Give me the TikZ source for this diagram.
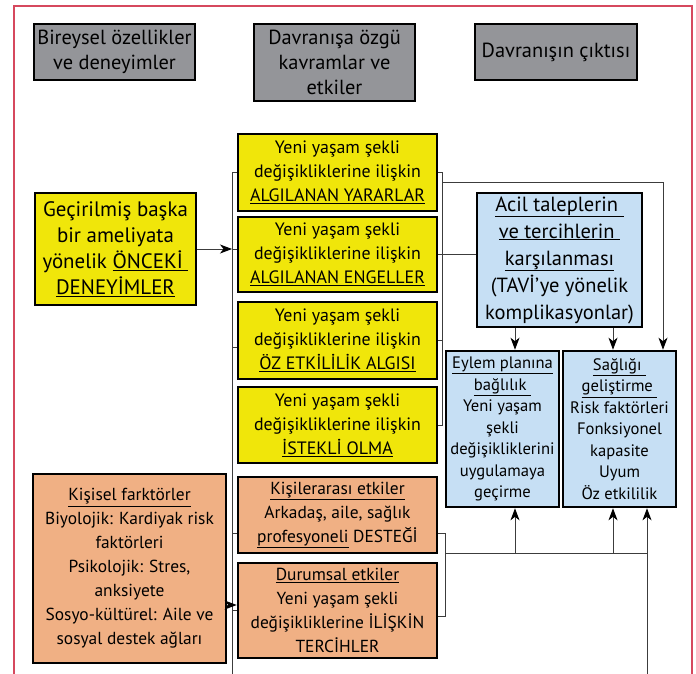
\documentclass[tikz,border=0pt]{standalone}
\usepackage{fontspec}
\setmainfont{PT Sans}
\usetikzlibrary{arrows.meta,calc}
\definecolor{frameRed}{RGB}{214,72,94}
\definecolor{hdrGray}{RGB}{148,149,153}
\definecolor{boxYellow}{RGB}{240,230,10}
\definecolor{boxOrange}{RGB}{240,176,132}
\definecolor{boxBlue}{RGB}{198,223,244}
\definecolor{lineGray}{RGB}{60,60,60}
\begin{document}
\begin{tikzpicture}[x=1pt,y=-1pt,
  box/.style={draw=black, line width=2.6pt, align=center, inner sep=0pt, text=black},
  hdr/.style={box, fill=hdrGray, font=\fontsize{20.4}{25}\selectfont},
  ybox/.style={box, fill=boxYellow, minimum width=199pt, font=\fontsize{17.9}{24}\selectfont},
  obox/.style={box, fill=boxOrange, font=\fontsize{17.4}{24}\selectfont},
  bbox/.style={box, fill=boxBlue, font=\fontsize{16.6}{21.5}\selectfont},
  conn/.style={draw=lineGray, line width=0.9pt},
  arr/.style={conn, -{Stealth[length=12pt,width=9pt,inset=3.5pt,black]}}
]
\useasboundingbox (0,0) rectangle (696,674);
\draw[frameRed, line width=2pt] (14,674) -- (14,6) -- (692,6) -- (692,674);

% headers
\node[hdr, minimum width=161pt, minimum height=56pt] (h1) at (114.5,52) {Bireysel özellikler\\ve deneyimler};
\node[hdr, minimum width=161pt, minimum height=77pt] (h2) at (334.5,62.5) {Davranışa özgü\\kavramlar ve\\etkiler};
\node[hdr, minimum width=162pt, minimum height=56pt] (h3) at (556,52) {Davranışın çıktısı};

% left column
\node[box, fill=boxYellow, minimum width=161pt, minimum height=112pt, font=\fontsize{20.9}{26}\selectfont] (prev) at (115.5,249)
  {Geçirilmiş başka\\bir ameliyata\\yönelik \underline{ÖNCEKİ }\\\underline{DENEYİMLER}};
\node[obox, minimum width=193pt, minimum height=189pt] (kis) at (129.5,568.5)
  {\underline{Kişisel farktörler}\\Biyolojik: Kardiyak risk\\faktörleri\\Psikolojik: Stres,\\anksiyete\\Sosyo-kültürel: Aile ve\\sosyal destek ağları};

% middle column
\node[ybox, minimum height=77pt] (y1) at (337.5,172.5) {Yeni yaşam şekli\\değişikliklerine ilişkin\\\underline{ALGILANAN YARARLAR}};
\node[ybox, minimum height=75pt] (y2) at (337.5,254.5) {Yeni yaşam şekli\\değişikliklerine ilişkin\\\underline{ALGILANAN ENGELLER}};
\node[ybox, minimum height=77pt] (y3) at (337.5,340.5) {Yeni yaşam şekli\\değişikliklerine ilişkin\\\underline{ÖZ ETKİLİLİK ALGISI}};
\node[ybox, minimum height=76pt] (y4) at (337.5,425) {Yeni yaşam şekli\\değişikliklerine ilişkin\\\underline{İSTEKLİ OLMA}};
\node[obox, minimum width=199pt, minimum height=76pt] (o1) at (337.5,515) {\underline{Kişilerarası etkiler}\\Arkadaş, aile, sağlık\\\underline{profesyoneli} DESTEĞİ};
\node[obox, minimum width=199pt, minimum height=95pt] (o2) at (337.5,610.5) {\underline{Durumsal etkiler}\\Yeni yaşam şekli\\değişikliklerine İLİŞKİN\\TERCİHLER};

% right column
\node[box, fill=boxBlue, minimum width=165pt, minimum height=134pt, font=\fontsize{20.5}{27}\selectfont] (acil) at (559.5,260)
  {\underline{Acil taleplerin }\\\underline{ve tercihlerin }\\\underline{karşılanması}\\(TAVİ'ye yönelik\\komplikasyonlar)};
\node[bbox, minimum width=113pt, minimum height=156pt] (eylem) at (502.5,429)
  {\underline{Eylem planına}\\\underline{bağlılık }\\Yeni yaşam\\şekli\\değişikliklerini\\uygulamaya\\geçirme};
\node[bbox, minimum width=113pt, minimum height=156pt] (sag) at (619.5,429)
  {\underline{Sağlığı }\\\underline{geliştirme }\\Risk faktörleri\\Fonksiyonel\\kapasite\\Uyum\\Öz etkililik};

% helper coordinates
\coordinate (busL) at (232,0);
\coordinate (busR) at (442,0);
\coordinate (busO) at (445,0);
\coordinate (ax1) at (515,0);
\coordinate (ax2) at (613,0);
\coordinate (ax3) at (663,0);
\coordinate (ax4) at (647,0);
\coordinate (bot) at (0,674);
\coordinate (tl) at (0,182);
\coordinate (ka) at (0,605);
\coordinate (t1) at (0,533);
\coordinate (t2) at (0,616);
\coordinate (hl) at (0,553);

% left bus
\draw[conn] (y1.west) -- (y1.west -| busL) -- (busL |- bot);
\draw[arr] (prev.east) -- (prev.east -| busL);
\draw[conn] (prev.east -| busL) -- (prev.east -| y2.west);
\draw[conn] ($(y3.west)+(0,6.5)$) -- ($(y3.west -| busL)+(0,6.5)$);
\draw[conn] (o1.west |- t1) -- (busL |- t1);
\draw[conn] (o2.west) -- (o2.west -| busL);
\draw[arr] (kis.east |- ka) -- (o2.west |- ka);

% right bracket
\draw[conn] (y1.east) -- (y1.east -| busR) -- (y4.east -| busR) -- (y4.east);
\draw[conn] (y3.east) -- (y3.east -| busR);
\draw[arr] (busR |- tl) -- (ax3 |- tl) -- (sag.north -| ax3);
\draw[conn] (y2.east) -- (y2.east -| acil.west);
\draw[arr] (acil.south -| ax1) -- (eylem.north -| ax1);
\draw[arr] (acil.south -| ax2) -- (sag.north -| ax2);

% bottom bracket
\draw[conn] (o1.east |- t1) -- (busO |- t1) -- (busO |- t2) -- (o2.east |- t2);
\draw[conn] (busO |- hl) -- (ax4 |- hl);
\draw[arr] (ax1 |- hl) -- (eylem.south -| ax1);
\draw[arr] (ax2 |- hl) -- (sag.south -| ax2);
\draw[arr] (ax4 |- bot) -- (sag.south -| ax4);
\end{tikzpicture}
\end{document}
